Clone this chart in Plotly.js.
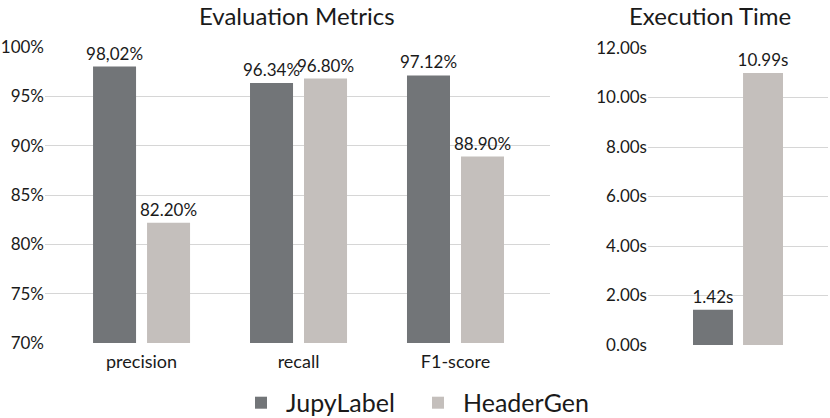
<!DOCTYPE html>
<html>
<head>
<meta charset="utf-8">
<script src="https://cdn.plot.ly/plotly-3.0.1.min.js"></script>
<style>
  html, body { margin: 0; padding: 0; background: #ffffff; }
  #chart { width: 830px; height: 418px; }
</style>
</head>
<body>
<div id="chart"></div>
<script>
const metrics = ["precision", "recall", "F1-score"];
const jupyMetrics = [98.02, 96.34, 97.12];
const headerMetrics = [82.20, 96.80, 88.90];
const jupyMetricLabels = ["98,02%", "96.34%", "97.12%"];
const headerMetricLabels = ["82.20%", "96.80%", "88.90%"];

const timeCategory = ["Execution Time"];
const jupyTime = [1.42];
const headerTime = [10.99];

const colors = { jupy: "#727578", header: "#c4bfbc", grid: "#d6d6d6", ink: "#1a1a1a" };
const font = "Lato, 'Open Sans', sans-serif";

const labelFont = { family: font, size: 17, color: colors.ink };
const tickFont = { family: font, size: 17, color: colors.ink };

const data = [
  {
    type: "bar", name: "JupyLabel", x: metrics, y: jupyMetrics,
    text: jupyMetricLabels, textposition: "outside", constraintext: "none", cliponaxis: false,
    textfont: labelFont, marker: { color: colors.jupy },
    width: 0.274, offset: -0.309, xaxis: "x", yaxis: "y", hoverinfo: "y"
  },
  {
    type: "bar", name: "HeaderGen", x: metrics, y: headerMetrics,
    text: headerMetricLabels, textposition: "outside", constraintext: "none", cliponaxis: false,
    textfont: labelFont, marker: { color: colors.header },
    width: 0.274, offset: 0.035, xaxis: "x", yaxis: "y", hoverinfo: "y"
  },
  {
    type: "bar", name: "JupyLabel", x: timeCategory, y: jupyTime, showlegend: false,
    texttemplate: "%{y:.2f}s", textposition: "outside", constraintext: "none", cliponaxis: false,
    textfont: labelFont, marker: { color: colors.jupy },
    width: 0.222, offset: -0.25, xaxis: "x2", yaxis: "y2", hoverinfo: "y"
  },
  {
    type: "bar", name: "HeaderGen", x: timeCategory, y: headerTime, showlegend: false,
    texttemplate: "%{y:.2f}s", textposition: "outside", constraintext: "none", cliponaxis: false,
    textfont: labelFont, marker: { color: colors.header },
    width: 0.222, offset: 0.028, xaxis: "x2", yaxis: "y2", hoverinfo: "y"
  }
];

const layout = {
  width: 830,
  height: 418,
  margin: { t: 0, r: 0, b: 0, l: 0, autoexpand: false },
  paper_bgcolor: "#ffffff",
  plot_bgcolor: "#ffffff",
  font: { family: font, size: 17, color: colors.ink },
  barmode: "group",
  showlegend: true,
  legend: {
    orientation: "h", x: 236 / 830, xanchor: "left", y: 0.036, yanchor: "middle",
    itemwidth: 40, entrywidth: 122, entrywidthmode: "pixels",
    font: { family: font, size: 25, color: colors.ink }
  },
  xaxis: {
    domain: [45 / 830, 550 / 830], range: [-0.615, 2.602], automargin: false,
    showgrid: false, zeroline: false, showline: false, ticks: "", ticklabelstandoff: 6,
    tickfont: { family: font, size: 18, color: colors.ink }, fixedrange: true
  },
  yaxis: {
    domain: [1 - 343 / 418, 1 - 47 / 418], range: [70, 100], dtick: 5, ticksuffix: "%", automargin: false,
    showgrid: true, gridcolor: colors.grid, gridwidth: 1.3, zeroline: false, showline: false, ticks: "",
    tickfont: tickFont, fixedrange: true
  },
  xaxis2: {
    anchor: "y2", domain: [648 / 830, 828 / 830], range: [-0.5, 0.5], automargin: false,
    showgrid: false, zeroline: false, showline: false, ticks: "", showticklabels: false, fixedrange: true
  },
  yaxis2: {
    anchor: "x2", domain: [1 - 345 / 418, 1 - 48 / 418], range: [0, 12], dtick: 2, automargin: false,
    tickformat: ".2f", ticksuffix: "s",
    showgrid: true, gridcolor: colors.grid, gridwidth: 1.3, zeroline: false, showline: false, ticks: "",
    tickfont: tickFont, fixedrange: true
  },
  annotations: [
    {
      text: "Evaluation Metrics", xref: "paper", yref: "paper", x: 297 / 830, y: 1 - 15 / 418,
      xanchor: "center", yanchor: "middle", showarrow: false, borderpad: 0,
      font: { family: font, size: 24, color: colors.ink }
    },
    {
      text: "Execution Time", xref: "paper", yref: "paper", x: 710 / 830, y: 1 - 15 / 418,
      xanchor: "center", yanchor: "middle", showarrow: false, borderpad: 0,
      font: { family: font, size: 24, color: colors.ink }
    }
  ]
};

Plotly.newPlot("chart", data, layout, { displayModeBar: false, responsive: false });
</script>
</body>
</html>
